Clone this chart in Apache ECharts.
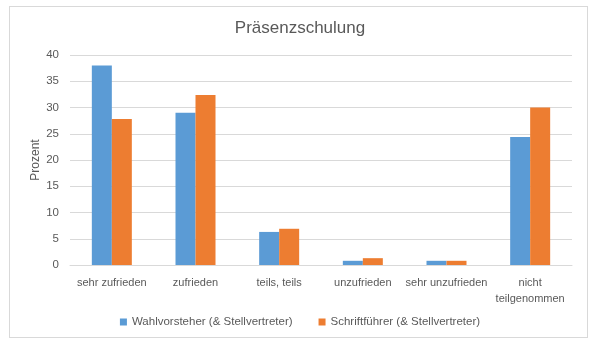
<!DOCTYPE html>
<html>
<head>
<meta charset="UTF-8">
<title>Präsenzschulung</title>
<script src="https://cdn.jsdelivr.net/npm/echarts@6/dist/echarts.min.js"></script>
<style>
  html, body { margin: 0; padding: 0; background: #fff; }
  #frame { position: absolute; left: 9px; top: 6px; width: 579px; height: 332px; border: 1px solid #d9d9d9; box-sizing: border-box; }
  #main { width: 600px; height: 351px; }
</style>
</head>
<body>
<div id="frame"></div>
<div id="main"></div>
<script>
  const categories = ['sehr zufrieden', 'zufrieden', 'teils, teils', 'unzufrieden', 'sehr unzufrieden', 'nicht\nteilgenommen']
  const wahlvorsteher = [38, 29, 6.3, 0.8, 0.8, 24.4]
  const schriftfuehrer = [27.8, 32.4, 6.9, 1.3, 0.8, 30]
  const seriesNames = ['Wahlvorsteher (& Stellvertreter)', 'Schriftführer (& Stellvertreter)']

  const font = 'Liberation Sans, Arial, sans-serif'
  const txt = '#595959'

  let chart = echarts.init(document.getElementById('main'), null, { renderer: 'canvas' })
  chart.setOption({
    animation: false,
    title: {
      text: 'Präsenzschulung',
      left: 'center',
      top: 15,
      textStyle: { fontFamily: font, fontSize: 17, fontWeight: 'normal', color: txt }
    },
    grid: { left: 70, right: 28, top: 55, bottom: 86, containLabel: false },
    legend: {
      bottom: 18,
      left: 'center',
      itemWidth: 7,
      itemHeight: 7,
      itemGap: 26,
      icon: 'rect',
      textStyle: { fontFamily: font, fontSize: 11.5, color: txt }
    },
    // y axis title, placed like the original
    graphic: [{
      type: 'text',
      x: 36,
      y: 160,
      rotation: Math.PI / 2,
      style: { text: 'Prozent', fontFamily: font, fontSize: 12, fill: txt, align: 'center', verticalAlign: 'middle' }
    }],
    xAxis: {
      type: 'category',
      data: categories,
      axisLine: { lineStyle: { color: '#d9d9d9' } },
      axisTick: { show: false },
      axisLabel: { fontFamily: font, fontSize: 11, color: txt, interval: 0, margin: 10, lineHeight: 16 }
    },
    yAxis: {
      type: 'value',
      min: 0,
      max: 40,
      interval: 5,
      axisLabel: { fontFamily: font, fontSize: 11.5, color: txt, margin: 11 },
      axisLine: { show: false },
      axisTick: { show: false },
      splitLine: { lineStyle: { color: '#d9d9d9' } }
    },
    series: [
      { name: seriesNames[0], type: 'bar', data: wahlvorsteher, barWidth: 20, barGap: '0%', itemStyle: { color: '#5b9bd5' } },
      { name: seriesNames[1], type: 'bar', data: schriftfuehrer, barWidth: 20, barGap: '0%', itemStyle: { color: '#ed7d31' } }
    ]
  })
</script>
</body>
</html>
